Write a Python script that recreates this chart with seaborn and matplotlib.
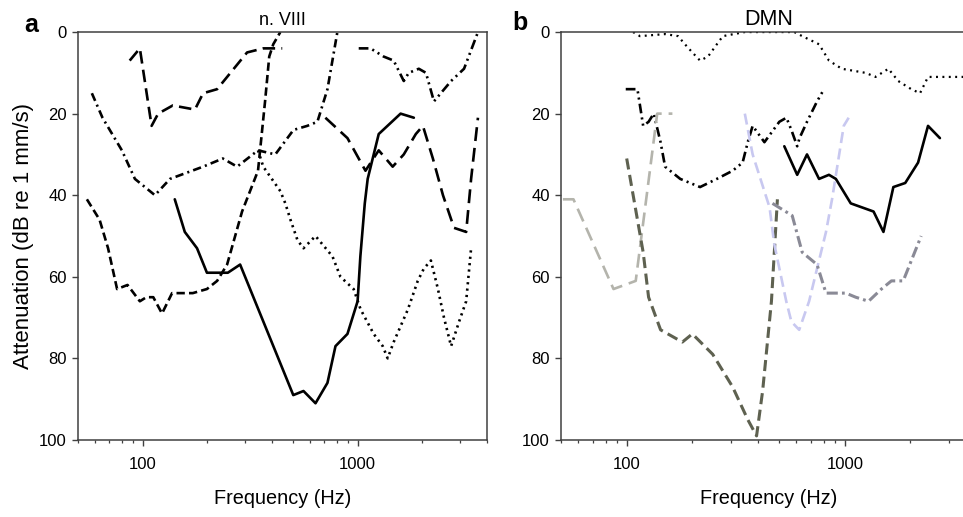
import matplotlib
matplotlib.use("Agg")
import matplotlib.pyplot as plt
from matplotlib.ticker import NullFormatter
import seaborn as sns

# panel a (n. VIII): frequency (Hz) / attenuation (dB)
a_solid_f = [141, 157, 179, 199, 249, 284, 502, 560, 637, 724, 789, 897, 1000, 1030, 1080, 1114, 1254, 1585, 1827]
a_solid_db = [41, 49, 53, 59, 59, 57, 89, 88, 91, 86, 77, 74, 66, 55, 42, 36, 25, 20, 21]

a_dash_f = [55, 63, 69, 76, 85, 97, 104, 112, 123, 137, 171, 199, 222, 247, 290, 344, 371, 388, 405, 437]
a_dash_db = [41, 46, 53, 63, 62, 66, 65, 65, 69, 64, 64, 63, 61, 57, 44, 34, 17, 6, 3, 0]

a_long1_f = [87, 97, 110, 118, 138, 175, 191, 222, 275, 306, 364, 446]
a_long1_db = [7, 4, 23, 20, 18, 19, 15, 14, 8, 5, 4, 4]

a_dashdot_f = [58, 65, 80, 92, 114, 134, 191, 236, 275, 344, 414, 503, 583, 650, 724, 805]
a_dashdot_db = [15, 21, 29, 36, 40, 36, 33, 31, 33, 29, 30, 24, 23, 22, 14, 0]

a_dashdotdot_f = [1012, 1148, 1321, 1472, 1640, 1730, 1927, 2080, 2266, 2723, 3128, 3631]
a_dashdotdot_db = [4, 4, 6, 7, 12, 10, 9, 10, 17, 12, 9, 0]

a_long2_f = [708, 897, 1088, 1254, 1456, 1640, 1866, 2013, 2240, 2496, 2810, 3200, 3374, 3631]
a_long2_db = [21, 26, 34, 29, 33, 30, 25, 23, 31, 40, 48, 49, 36, 21]

a_dot_f = [344, 364, 437, 461, 487, 525, 560, 637, 764, 832, 958, 1033, 1188, 1309, 1380, 1472,
           1714, 1905, 2033, 2193, 2365, 2523, 2723, 2966, 3200, 3374]
a_dot_db = [29, 33, 39, 42, 46, 51, 53, 50, 55, 60, 63, 68, 74, 77, 80, 76,
            68, 61, 58, 56, 63, 70, 77, 71, 66, 53]

# panel b (DMN)
b_dot_f = [107, 115, 150, 172, 185, 200, 217, 236, 259, 276, 348, 587, 638, 762, 846, 969,
           1245, 1383, 1585, 1758, 2017, 2213, 2408, 3404, 4000]
b_dot_db = [0, 1, 0.5, 1, 3, 5, 7, 6, 3, 1, 0, 0, 1, 3, 7, 9,
            10, 11, 9, 12, 14, 15, 11, 11, 11]

b_dashdotdot_f = [99, 112, 119, 126, 133, 143, 150, 176, 217, 259, 306, 340, 359, 378, 428,
                  501, 540, 569, 605, 620, 671, 746, 803]
b_dashdotdot_db = [14, 14, 23, 22, 20, 27, 33, 36, 38, 36, 34, 32, 27, 23, 27,
                   22, 21, 24, 28, 26, 22, 17, 14]

b_solid_f = [528, 605, 671, 762, 846, 910, 1065, 1355, 1504, 1670, 1893, 2168, 2408, 2730]
b_solid_db = [28, 35, 30, 36, 35, 36, 42, 44, 49, 38, 37, 32, 23, 26]

b_lightgrey_f = [51, 57, 87, 110, 138, 147, 162]
b_lightgrey_db = [41, 41, 63, 61, 20, 20, 20]

b_olive_f = [100, 119, 126, 143, 180, 200, 248, 306, 359, 394, 420, 461, 491]
b_olive_db = [31, 54, 65, 73, 76, 74, 79, 87, 95, 99, 88, 66, 41]

b_lavender_f = [348, 378, 452, 475, 539, 569, 618, 686, 746, 820, 874, 989, 1042]
b_lavender_db = [20, 30, 43, 52, 66, 71, 73, 66, 58, 49, 41, 23, 21]

b_grey_f = [466, 574, 638, 746, 820, 910, 1011, 1122, 1285, 1472, 1636, 1853, 2240]
b_grey_db = [42, 45, 54, 57, 64, 64, 64, 65, 66, 63, 61, 61, 50]


def draw(ax, f, db, color, ls, lw=1.9):
    sns.lineplot(x=f, y=db, ax=ax, color=color, linestyle=ls, linewidth=lw,
                 sort=False, estimator=None)


def style_axis(ax):
    ax.set_xscale("log")
    ax.set_xlim(50, 4000)
    ax.set_ylim(100, 0)
    ax.set_yticks([0, 20, 40, 60, 80, 100])
    ax.set_xticks([100, 1000])
    ax.set_xticklabels(["100", "1000"])
    ax.xaxis.set_minor_formatter(NullFormatter())
    ax.tick_params(axis="both", which="major", direction="out", length=4.5,
                   width=1.0, color="#404040", labelsize=12, labelcolor="black")
    ax.tick_params(axis="x", which="major", pad=8)
    ax.tick_params(axis="x", which="minor", direction="out", length=2.5,
                   width=0.9, color="#404040")
    for s in ax.spines.values():
        s.set_color("#404040")
        s.set_linewidth(1.1)
        s.set_visible(True)
    ax.set_xlabel("Frequency (Hz)", fontsize=14.3, labelpad=12, color="black")
    ax.grid(False)


def main():
    sns.set_style("ticks")
    plt.rcParams["font.family"] = ["Liberation Sans", "DejaVu Sans"]
    plt.rcParams["lines.scale_dashes"] = False
    plt.rcParams["text.color"] = "black"
    plt.rcParams["axes.labelcolor"] = "black"

    fig = plt.figure(figsize=(9.63, 5.17), dpi=100)
    ax1 = fig.add_axes([0.081, 0.149, 0.4247, 0.789])
    ax2 = fig.add_axes([0.5826, 0.149, 0.431, 0.789])
    ax1.set_xscale("log")
    ax2.set_xscale("log")

    # panel a
    draw(ax1, a_solid_f, a_solid_db, "black", "-")
    draw(ax1, a_dash_f, a_dash_db, "black", (0, (6, 3)))
    draw(ax1, a_long1_f, a_long1_db, "black", (0, (9, 4.5)))
    draw(ax1, a_dashdot_f, a_dashdot_db, "black", (0, (6, 3, 1.5, 3)))
    draw(ax1, a_dashdotdot_f, a_dashdotdot_db, "black", (0, (7, 3, 1.5, 3, 1.5, 3)))
    draw(ax1, a_long2_f, a_long2_db, "black", (0, (10, 5)))
    draw(ax1, a_dot_f, a_dot_db, "black", (0, (1.6, 3)))

    # panel b
    draw(ax2, b_dot_f, b_dot_db, "black", (0, (1.4, 3.2)), lw=1.6)
    draw(ax2, b_dashdotdot_f, b_dashdotdot_db, "black", (0, (7, 3, 1.5, 3, 1.5, 3)))
    draw(ax2, b_solid_f, b_solid_db, "black", "-")
    draw(ax2, b_lightgrey_f, b_lightgrey_db, "#b4b4ac", (0, (10, 5)))
    draw(ax2, b_olive_f, b_olive_db, "#5e6150", (0, (8, 4)), lw=2.2)
    draw(ax2, b_lavender_f, b_lavender_db, "#c8c8f0", (0, (8, 4)))
    draw(ax2, b_grey_f, b_grey_db, "#8a8a96", (0, (8, 3, 2, 3)), lw=2.2)

    style_axis(ax1)
    style_axis(ax2)
    ax1.set_ylabel("Attenuation (dB re 1 mm/s)", fontsize=16, labelpad=4)
    ax1.set_title("n. VIII", fontsize=13, pad=5, color="black")
    ax2.set_title("DMN", fontsize=15.5, pad=5, color="black")

    fig.text(31 / 963, 1 - 25 / 517, "a", fontsize=18, fontweight="bold",
             ha="center", va="center", color="black")
    fig.text(520 / 963, 1 - 23 / 517, "b", fontsize=18, fontweight="bold",
             ha="center", va="center", color="black")

    fig.savefig("out.png", dpi=100)
    plt.close(fig)


if __name__ == "__main__":
    main()
